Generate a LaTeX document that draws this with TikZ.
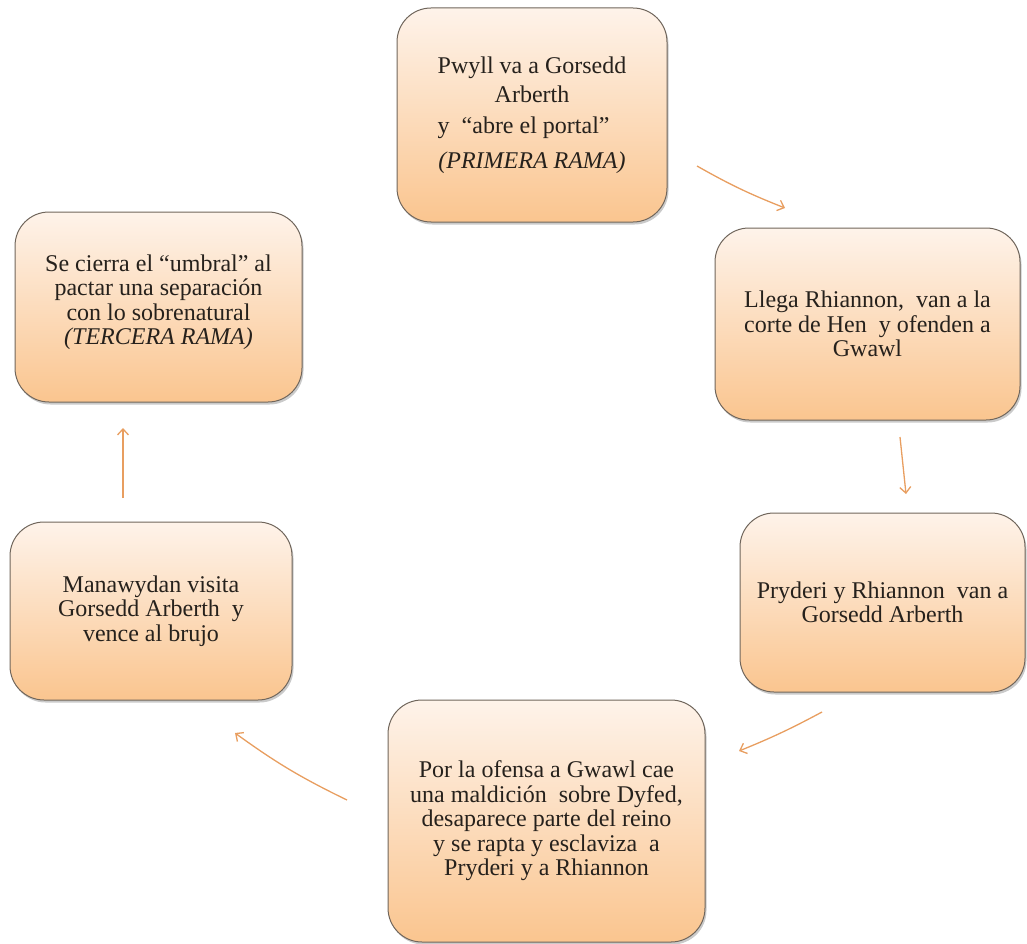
\documentclass[tikz,border=0pt]{standalone}
\usepackage{fontspec}
\setmainfont{Liberation Serif}
\usepackage{calc}
\usetikzlibrary{arrows.meta,shadows}
\definecolor{boxtop}{RGB}{254,243,234}
\definecolor{boxbot}{RGB}{250,197,143}
\definecolor{boxline}{RGB}{112,102,92}
\definecolor{arrowc}{RGB}{232,158,96}
\definecolor{txt}{RGB}{38,33,28}
\begin{document}
\begin{tikzpicture}[x=1pt,y=-1pt,
  card/.style={rectangle, rounded corners=34pt, draw=boxline, line width=1pt,
    top color=boxtop, bottom color=boxbot,
    drop shadow={shadow xshift=1.5pt,shadow yshift=-2.5pt,opacity=0.35,fill=black!60},
    align=center, font=\fontsize{24}{24.5}\selectfont, text=txt, inner sep=0pt},
  flow/.style={draw=arrowc, line width=1.3pt,
    -{Straight Barb[length=6pt,width=11pt,line width=1.3pt]}}]
\useasboundingbox (0,0) rectangle (1027,944);

\node[card, minimum width=270pt, minimum height=214pt] (b1) at (532,115)
  {Pwyll va a Gorsedd\\[4.5pt]
   Arberth\\[6.5pt]
   \makebox[\widthof{Pwyll va a Gorsedd}][l]{y ~“abre el portal”}\\[10.5pt]
   \textit{(PRIMERA RAMA)}};

\node[card, minimum width=305pt, minimum height=192pt] (b2) at (867.5,324)
  {Llega Rhiannon, ~van a la\\ corte de Hen ~y ofenden a\\ Gwawl};

\node[card, minimum width=285pt, minimum height=179pt] (b3) at (882.5,602.5)
  {Pryderi y Rhiannon ~van a\\ Gorsedd Arberth};

\node[card, minimum width=317pt, minimum height=242pt] (b4) at (546.5,821)
  {Por la ofensa a Gwawl cae\\ una maldición ~sobre Dyfed,\\ desaparece parte del reino\\
   y se rapta y esclaviza ~a\\ Pryderi y a Rhiannon};

\node[card, minimum width=282pt, minimum height=178pt] (b5) at (151,611)
  {Manawydan visita\\ Gorsedd Arberth ~y\\ vence al brujo};

\node[card, minimum width=287pt, minimum height=190pt] (b6) at (158.5,307)
  {Se cierra el “umbral” al\\ pactar una separación\\ con lo sobrenatural\\
   \textit{(TERCERA RAMA)}\\[-10pt]\mbox{}};

\coordinate (a1s) at (697,166);
\coordinate (a1e) at (785,208);
\coordinate (a2s) at (900,437);
\coordinate (a2e) at (906,494);
\coordinate (a3s) at (822,712);
\coordinate (a3e) at (739,751);
\coordinate (a4s) at (347,800);
\coordinate (a4e) at (235,733);
\coordinate (a5s) at (123,498);
\coordinate (a5e) at (123,428);

\draw[flow] (a1s) to[bend right=4] (a1e);
\draw[flow] (a2s) -- (a2e);
\draw[flow] (a3s) to[bend left=3] (a3e);
\draw[flow] (a4s) to[bend left=5] (a4e);
\draw[flow] (a5s) -- (a5e);
\end{tikzpicture}
\end{document}
